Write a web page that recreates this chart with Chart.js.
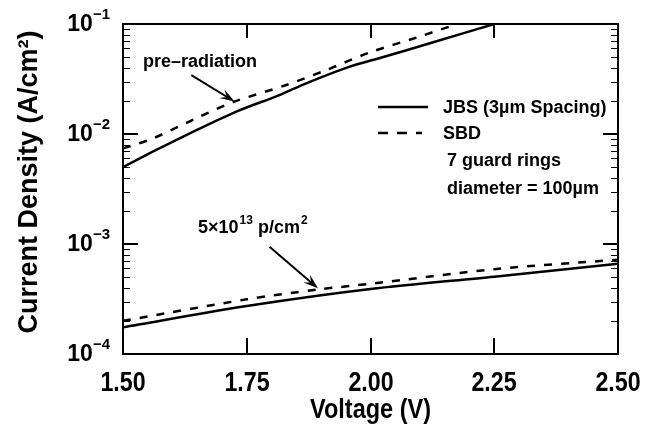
<!DOCTYPE html>
<html><head><meta charset="utf-8">
<script src="https://cdn.jsdelivr.net/npm/chart.js@4/dist/chart.umd.min.js"></script>
<style>html,body{margin:0;padding:0;background:#fff}#wrap{width:652px;height:432px;position:relative}</style>
</head><body><div id="wrap"><canvas id="c" width="652" height="432" style="width:652px;height:432px"></canvas></div>
<script>
// ---- data ----
const jbsPreV   = [1.50, 1.56, 1.634, 1.729, 1.816, 1.870, 1.958, 2.012, 2.13, 2.25];
const jbsPreJ   = [5.0e-3, 6.9e-3, 1.01e-2, 1.6e-2, 2.26e-2, 2.89e-2, 4.1e-2, 4.8e-2, 6.9e-2, 0.1];
const sbdPreV   = [1.50, 1.56, 1.655, 1.725, 1.83, 1.911, 1.998, 2.096, 2.175];
const sbdPreJ   = [7.4e-3, 9.1e-3, 1.44e-2, 1.97e-2, 2.79e-2, 3.82e-2, 5.5e-2, 7.6e-2, 0.1];
const jbsPostV  = [1.50, 1.75, 2.00, 2.25, 2.50];
const jbsPostJ  = [1.75e-4, 2.73e-4, 3.9e-4, 5.05e-4, 6.6e-4];
const sbdPostV  = [1.50, 1.75, 1.897, 2.00, 2.25, 2.50];
const sbdPostJ  = [2.0e-4, 3.14e-4, 3.87e-4, 4.35e-4, 5.9e-4, 7.2e-4];
const xTicks    = [1.50, 1.75, 2.00, 2.25, 2.50];
const yExponents = [-4, -3, -2, -1];
const xTitle = 'Voltage (V)';
const yTitle = 'Current Density (A/cm\u00b2)';
const legendLabels = ['JBS (3\u00b5m Spacing)', 'SBD'];
const noteLines = ['7 guard rings', 'diameter = 100\u00b5m'];
const preLabel = 'pre\u2013radiation';
const postLabel = ['5\u00d710', '13', ' p/cm', '2'];
// arrow annotations in data coordinates [tailV, tailJ, headV, headJ]
const preArrow  = [1.638, 0.0343, 1.7255, 0.0197];
const postArrow = [1.796, 9.45e-4, 1.894, 3.95e-4];

const pts = (xs, ys) => xs.map((x, i) => ({x, y: ys[i]}));
const SANS = '"Liberation Sans", Arial, sans-serif';

const framePlugin = {
  id: 'frame',
  afterDraw(chart) {
    const ctx = chart.ctx, ca = chart.chartArea;
    const xs = chart.scales.x, ys = chart.scales.y;
    ctx.save();
    ctx.strokeStyle = '#000';
    ctx.fillStyle = '#000';
    // frame
    ctx.lineWidth = 2;
    ctx.strokeRect(ca.left, ca.top, ca.right - ca.left, ca.bottom - ca.top);
    // x major ticks (bottom and top, inward) + labels
    xTicks.forEach(v => {
      const px = Math.round(xs.getPixelForValue(v));
      ctx.beginPath();
      ctx.moveTo(px, ca.bottom); ctx.lineTo(px, ca.bottom - 16);
      ctx.moveTo(px, ca.top); ctx.lineTo(px, ca.top + 14);
      ctx.stroke();
      ctx.save();
      ctx.translate(px, ca.bottom + 30);
      ctx.scale(0.86, 1);
      ctx.font = 'bold 27px ' + SANS;
      ctx.textAlign = 'center';
      ctx.textBaseline = 'middle';
      ctx.fillText(v.toFixed(2), 0, 0);
      ctx.restore();
    });
    // x title
    ctx.save();
    ctx.translate((ca.left + ca.right) / 2, ca.bottom + 57);
    ctx.scale(0.87, 1);
    ctx.font = 'bold 27px ' + SANS;
    ctx.textAlign = 'center';
    ctx.textBaseline = 'middle';
    ctx.fillText(xTitle, 0, 0);
    ctx.restore();
    // y title
    ctx.save();
    ctx.translate(30, (ca.top + ca.bottom) / 2 - 7);
    ctx.rotate(-Math.PI / 2);
    ctx.font = 'bold 27px ' + SANS;
    ctx.textAlign = 'center';
    ctx.textBaseline = 'middle';
    ctx.fillText(yTitle, 0, 0);
    ctx.restore();
    // y ticks (left and right, inward)
    yExponents.forEach(e => {
      const base = Math.pow(10, e);
      const py = Math.round(ys.getPixelForValue(base));
      ctx.lineWidth = 2;
      ctx.beginPath();
      ctx.moveTo(ca.left, py); ctx.lineTo(ca.left + 15, py);
      ctx.moveTo(ca.right, py); ctx.lineTo(ca.right - 15, py);
      ctx.stroke();
      if (e < -1) {
        ctx.lineWidth = 1;
        for (let m = 2; m <= 9; m++) {
          const my = Math.round(ys.getPixelForValue(m * base)) + 0.5;
          ctx.beginPath();
          ctx.moveTo(ca.left, my); ctx.lineTo(ca.left + 7, my);
          ctx.moveTo(ca.right, my); ctx.lineTo(ca.right - 7, my);
          ctx.stroke();
        }
      }
    });
    // y tick labels 10^e
    ctx.textBaseline = 'middle';
    yExponents.forEach(e => {
      const py = ys.getPixelForValue(Math.pow(10, e));
      const sup = '\u2212' + Math.abs(e);
      ctx.font = 'bold 15px ' + SANS;
      const sw = ctx.measureText(sup).width;
      const right = ca.left - 13;
      ctx.textAlign = 'left';
      ctx.fillText(sup, right - sw, py - 9);
      ctx.font = 'bold 23px ' + SANS;
      ctx.textAlign = 'right';
      ctx.fillText('10', right - sw, py + 1);
    });
    // arrows
    const arrow = (a) => {
      const x1 = xs.getPixelForValue(a[0]), y1 = ys.getPixelForValue(a[1]);
      const x2 = xs.getPixelForValue(a[2]), y2 = ys.getPixelForValue(a[3]);
      const ang = Math.atan2(y2 - y1, x2 - x1);
      ctx.lineWidth = 2;
      ctx.beginPath();
      ctx.moveTo(x1, y1);
      ctx.lineTo(x2 - 4 * Math.cos(ang), y2 - 4 * Math.sin(ang));
      ctx.stroke();
      const L = 15, W = 5;
      ctx.beginPath();
      ctx.moveTo(x2, y2);
      ctx.lineTo(x2 - L * Math.cos(ang) + W * Math.sin(ang), y2 - L * Math.sin(ang) - W * Math.cos(ang));
      ctx.lineTo(x2 - 0.6 * L * Math.cos(ang), y2 - 0.6 * L * Math.sin(ang));
      ctx.lineTo(x2 - L * Math.cos(ang) - W * Math.sin(ang), y2 - L * Math.sin(ang) + W * Math.cos(ang));
      ctx.closePath();
      ctx.fill();
    };
    arrow(preArrow);
    arrow(postArrow);
    // annotation labels
    ctx.textAlign = 'left';
    ctx.textBaseline = 'alphabetic';
    ctx.font = 'bold 18px ' + SANS;
    ctx.fillText(preLabel, ca.left + 20, ca.top + 43);
    let px = ca.left + 75, by = ca.top + 209;
    ctx.font = 'bold 18px ' + SANS;
    ctx.fillText(postLabel[0], px, by); px += ctx.measureText(postLabel[0]).width + 1;
    ctx.font = 'bold 12px ' + SANS;
    ctx.fillText(postLabel[1], px, by - 9); px += ctx.measureText(postLabel[1]).width;
    ctx.font = 'bold 18px ' + SANS;
    ctx.fillText(postLabel[2], px, by); px += ctx.measureText(postLabel[2]).width + 1;
    ctx.font = 'bold 12px ' + SANS;
    ctx.fillText(postLabel[3], px, by - 9);
    // legend
    const lx = ca.left + 255, tx = ca.left + 320;
    const rows = [ca.top + 83, ca.top + 109];
    ctx.lineWidth = 2.5;
    ctx.beginPath(); ctx.moveTo(lx, rows[0]); ctx.lineTo(lx + 50, rows[0]); ctx.stroke();
    ctx.setLineDash([10, 9]);
    ctx.beginPath(); ctx.moveTo(lx, rows[1]); ctx.lineTo(lx + 44, rows[1]); ctx.stroke();
    ctx.setLineDash([]);
    ctx.textBaseline = 'middle';
    ctx.font = 'bold 18px ' + SANS;
    ctx.fillText(legendLabels[0], tx, rows[0] + 1);
    ctx.fillText(legendLabels[1], tx, rows[1] + 1);
    ctx.fillText(noteLines[0], tx + 4, ca.top + 137);
    ctx.fillText(noteLines[1], tx + 4, ca.top + 165);
    ctx.restore();
  }
};

const solid = {borderColor: '#000', borderWidth: 2.5, pointRadius: 0, fill: false, tension: 0.3};
const dashed = Object.assign({}, solid, {borderDash: [8, 9]});

new Chart(document.getElementById('c'), {
  type: 'line',
  data: {
    datasets: [
      Object.assign({label: legendLabels[0] + ' pre', data: pts(jbsPreV, jbsPreJ)}, solid),
      Object.assign({label: legendLabels[1] + ' pre', data: pts(sbdPreV, sbdPreJ)}, dashed),
      Object.assign({label: legendLabels[0] + ' post', data: pts(jbsPostV, jbsPostJ)}, solid),
      Object.assign({label: legendLabels[1] + ' post', data: pts(sbdPostV, sbdPostJ)}, dashed)
    ]
  },
  options: {
    responsive: false,
    animation: false,
    devicePixelRatio: 1,
    layout: {padding: {top: 24, right: 34, left: 0, bottom: 0}},
    plugins: {legend: {display: false}, tooltip: {enabled: false}},
    scales: {
      x: {
        type: 'linear', min: 1.5, max: 2.5,
        afterBuildTicks: s => { s.ticks = xTicks.map(v => ({value: v})); },
        afterFit: s => { s.height = 78; },
        grid: {display: false, drawTicks: false},
        border: {display: false},
        ticks: {display: false},
        title: {display: false}
      },
      y: {
        type: 'logarithmic', min: 1e-4, max: 1e-1,
        afterFit: s => { s.width = 123; },
        grid: {display: false, drawTicks: false},
        border: {display: false},
        ticks: {display: false},
        title: {display: false}
      }
    }
  },
  plugins: [framePlugin]
});
</script>
</body></html>
